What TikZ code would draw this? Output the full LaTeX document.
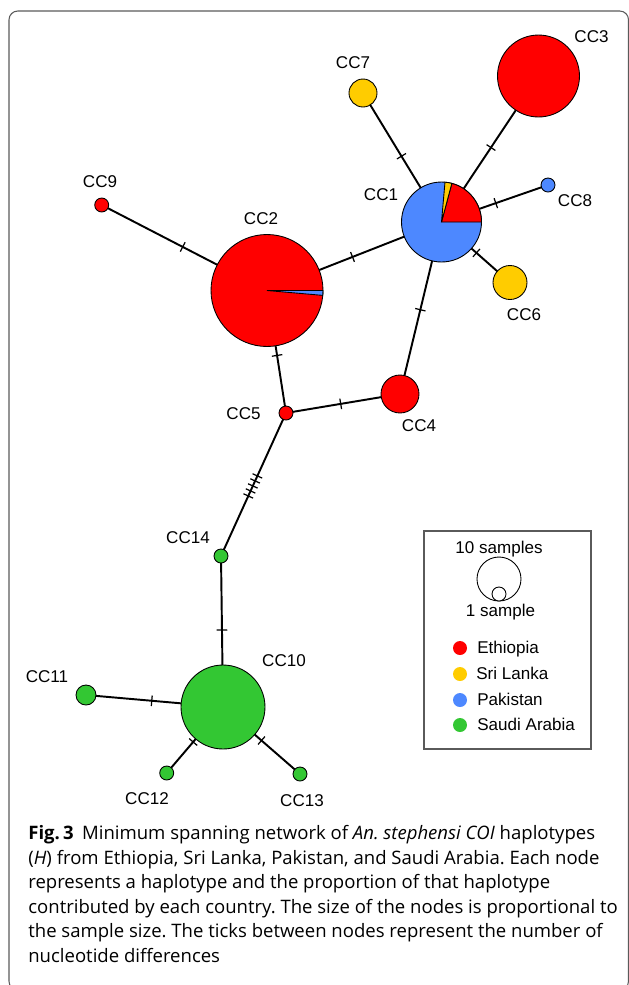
\documentclass[tikz,border=0pt]{standalone}
\usepackage{fontspec}
\setmainfont{Liberation Sans}
\newfontfamily\capfont{Open Sans}
\usepackage{tikz}
\usetikzlibrary{backgrounds}
\definecolor{ethred}{RGB}{255, 0, 0}
\definecolor{sriyellow}{RGB}{255, 204, 0}
\definecolor{pakblue}{RGB}{77, 136, 255}
\definecolor{saugreen}{RGB}{51, 199, 51}
\definecolor{framegray}{RGB}{90, 90, 90}
\tikzstyle{hap} = [circle, draw=black, line width=0.5pt, inner sep=0pt]
\tikzstyle{legdot} = [circle, inner sep=0pt, minimum size=0.28cm]
\tikzstyle{lbl} = [font=\fontsize{9.7}{11}\selectfont, inner sep=0pt, anchor=base]
\tikzstyle{link} = [line width=1.1pt]
\tikzstyle{mutation} = [draw, line width=0.7pt, sloped, pos=0.51, inner sep=0pt, minimum width=0pt, minimum height=6pt]
\tikzstyle{capnode} = [font=\capfont\fontsize{10.55}{14}\selectfont, align=left, anchor=north west, inner sep=0pt]
\newcommand{\pieslice}[5]{\filldraw[fill=#5, draw=black, line width=0.5pt] (#1.center) -- ++(#3:#2) arc[start angle=#3, end angle=#4, radius=#2] -- cycle;}

\begin{document}
\frenchspacing
\begin{tikzpicture}[x=0.02cm, y=-0.02cm]
    \useasboundingbox (0,0) rectangle (629,985);
    \clip (0,0) rectangle (629,985);
    % Frame
    \draw[framegray, line width=0.6pt, rounded corners=5pt] (9,11) rectangle (628.5,990);

    % Haplotypes
    \node[hap, fill=pakblue, minimum size=1.60cm] (cc1) at (441.5,222) {};
    \node[hap, fill=ethred, minimum size=2.24cm] (cc2) at (267,290.5) {};
    \node[hap, fill=ethred, minimum size=1.64cm] (cc3) at (538.5,76) {};
    \node[hap, fill=ethred, minimum size=0.76cm] (cc4) at (400,394) {};
    \node[hap, fill=ethred, minimum size=0.28cm] (cc5) at (286,413) {};
    \node[hap, fill=sriyellow, minimum size=0.68cm] (cc6) at (510,282.5) {};
    \node[hap, fill=sriyellow, minimum size=0.56cm] (cc7) at (363,93) {};
    \node[hap, fill=pakblue, minimum size=0.28cm] (cc8) at (548,185) {};
    \node[hap, fill=ethred, minimum size=0.28cm] (cc9) at (101.7,205) {};
    \node[hap, fill=saugreen, minimum size=1.68cm] (cc10) at (223,707) {};
    \node[hap, fill=saugreen, minimum size=0.40cm] (cc11) at (86,695) {};
    \node[hap, fill=saugreen, minimum size=0.28cm] (cc12) at (166.7,773) {};
    \node[hap, fill=saugreen, minimum size=0.28cm] (cc13) at (300,774) {};
    \node[hap, fill=saugreen, minimum size=0.28cm] (cc14) at (221,556) {};

    % Pie slices
    \pieslice{cc1}{0.8cm}{0}{75}{ethred}
    \pieslice{cc1}{0.8cm}{75}{85}{sriyellow}
    \pieslice{cc2}{1.12cm}{-5}{0}{pakblue}

    % Links with ticks
    \begin{scope}[on background layer]
        \draw[link] (cc1.center) -- (cc3.center) node[mutation] {};
        \draw[link] (cc1.center) -- (cc7.center) node[mutation] {};
        \draw[link] (cc1.center) -- (cc8.center) node[mutation] {};
        \draw[link] (cc1.center) -- (cc6.center) node[mutation] {};
        \draw[link] (cc1.center) -- (cc2.center) node[mutation] {};
        \draw[link] (cc1.center) -- (cc4.center) node[mutation] {};
        \draw[link] (cc2.center) -- (cc9.center) node[mutation] {};
        \draw[link] (cc2.center) -- (cc5.center) node[mutation, pos=0.53] {};
        \draw[link] (cc5.center) -- (cc4.center) node[mutation, pos=0.48] {};
        \draw[link] (cc5.center) -- (cc14.center);
        \foreach \p in {0.44, 0.475, 0.51, 0.545, 0.58}
            \path (cc5.center) -- (cc14.center) node[mutation, pos=\p] {};
        \draw[link] (cc14.center) -- (cc10.center) node[mutation, pos=0.49] {};
        \draw[link] (cc10.center) -- (cc11.center) node[mutation, pos=0.52] {};
        \draw[link] (cc10.center) -- (cc12.center) node[mutation, pos=0.53] {};
        \draw[link] (cc10.center) -- (cc13.center) node[mutation, pos=0.50] {};
    \end{scope}

    % Labels
    \node[lbl] (l1) at (381,200) {CC1};
    \node[lbl] (l2) at (261,224) {CC2};
    \node[lbl] (l3) at (591.5,42) {CC3};
    \node[lbl] (l4) at (419,431) {CC4};
    \node[lbl] (l5) at (243.5,419) {CC5};
    \node[lbl] (l6) at (524,320.5) {CC6};
    \node[lbl] (l7) at (353,68) {CC7};
    \node[lbl] (l8) at (575,206) {CC8};
    \node[lbl] (l9) at (100,187.5) {CC9};
    \node[lbl] (l10) at (284,666) {CC10};
    \node[lbl] (l11) at (47,682) {CC11};
    \node[lbl] (l12) at (147,804) {CC12};
    \node[lbl] (l13) at (302,806.5) {CC13};
    \node[lbl] (l14) at (188,543) {CC14};

    % Legend
    \draw[framegray, line width=0.6pt] (424,531) rectangle (591,749);
    \node[hap, minimum size=0.88cm] (tensize) at (499,579) {};
    \node[hap, fill=white, minimum size=0.28cm] (onesize) at (499,594) {};
    \node[lbl] (tentext) at (499,553) {10 samples};
    \node[lbl] (onetext) at (500.5,616.5) {1 sample};
    \node[legdot, fill=ethred] (dot1) at (460,648) {};
    \node[legdot, fill=sriyellow] (dot2) at (460,674) {};
    \node[legdot, fill=pakblue] (dot3) at (460,700) {};
    \node[legdot, fill=saugreen] (dot4) at (460,725) {};
    \node[lbl, anchor=base west] (eth) at (477,653) {Ethiopia};
    \node[lbl, anchor=base west] (sri) at (476,679) {Sri Lanka};
    \node[lbl, anchor=base west] (pak) at (477,705) {Pakistan};
    \node[lbl, anchor=base west] (sau) at (477,730.5) {Saudi Arabia};

    % Caption
    \node[capnode] (caption) at (28,825) {\textbf{Fig.\,3}\hspace{0.2em} Minimum spanning network of \textit{An. stephensi COI} haplotypes\\
        (\textit{H}) from Ethiopia, Sri Lanka, Pakistan, and Saudi Arabia. Each node\\
        represents a haplotype and the proportion of that haplotype\\
        contributed by each country. The size of the nodes is proportional to\\
        the sample size. The ticks between nodes represent the number of\\
        nucleotide differences};
\end{tikzpicture}
\end{document}
